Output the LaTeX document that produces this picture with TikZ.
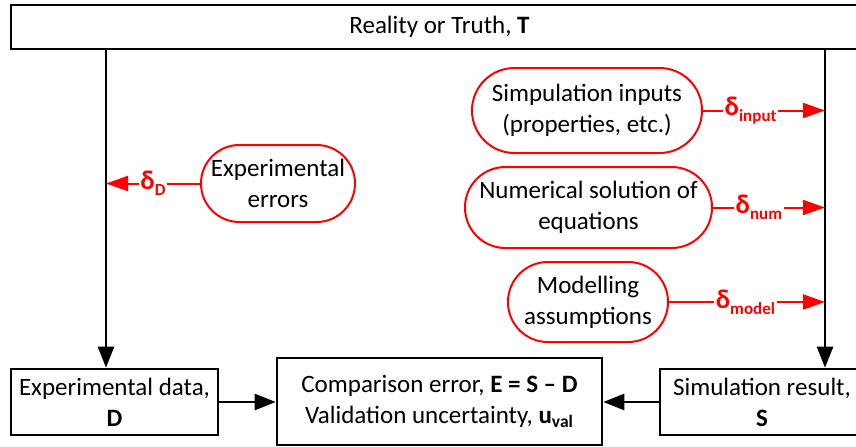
\documentclass[tikz,border=0pt]{standalone}
\usepackage{fontspec}
\setmainfont{Carlito}
\usetikzlibrary{arrows.meta}
% bold error symbol with a lowered subscript
\newcommand\errsym[1]{δ\raisebox{-0.45ex}{\fontsize{8.5pt}{9pt}\selectfont #1}}
\begin{document}
\begin{tikzpicture}[x=0.5pt,y=-0.5pt,
  font=\fontsize{12.5pt}{15.5pt}\selectfont,
  box/.style={draw=black,line width=1.3pt,inner sep=0pt,align=center,fill=white},
  pill/.style={draw=red,line width=1pt,inner sep=0pt,align=center,fill=white},
  flow/.style={draw=black,line width=1.3pt,-{Triangle[length=10.5pt,width=8pt]}},
  errflow/.style={draw=red,line width=1pt,-{Triangle[length=11pt,width=7.5pt]}},
  dlabel/.style={fill=white,text=red,inner sep=0.8pt,font=\fontsize{13.5pt}{15pt}\selectfont\bfseries},
]
\useasboundingbox (0,0) rectangle (856,446);
\clip (0,0) rectangle (856,446);

% main boxes
\node[box,minimum width=428.5pt,minimum height=22pt] (truth) at (439.5,27) {Reality or Truth, \textbf{T}};
\node[box,minimum width=103.5pt,minimum height=33pt] (exp) at (114.5,402) {Experimental data,\\\textbf{D}};
\node[box,minimum width=102pt,minimum height=33pt] (sim) at (762,402) {Simulation result,\\\textbf{S}};
\node[box,minimum width=162.5pt,minimum height=43.5pt] (cmp) at (439.5,401.5)
  {Comparison error, \textbf{E = S – D}\\Validation uncertainty, \textbf{u}\textsubscript{\textbf{val}}};

% error sources
\node[pill,minimum width=115pt,minimum height=42.5pt,rounded corners=21.2pt] (inp) at (587,110.5) {Simpulation inputs\\(properties, etc.)};
\node[pill,minimum width=123.5pt,minimum height=40.5pt,rounded corners=20.2pt] (num) at (588.5,207.5) {Numerical solution of\\equations};
\node[pill,minimum width=80pt,minimum height=40pt,rounded corners=19.9pt] (mod) at (588,302) {Modelling\\assumptions};
\node[pill,minimum width=77pt,minimum height=38.5pt,rounded corners=19.2pt] (experr) at (278,183.5) {Experimental\\errors};

% vertical flows from reality
\coordinate (lt) at (106,49);
\coordinate (rt) at (825,49);
\draw[flow] (lt) -- (lt |- exp.north);
\draw[flow] (rt) -- (rt |- sim.north);

% into the comparison
\draw[flow] (exp.east) -- (exp.east -| cmp.west);
\draw[flow] (sim.west) -- (sim.west -| cmp.east);

% error contributions
\draw[errflow] (experr.west) -- node[dlabel,pos=0.5] {\errsym{D}} (experr.west -| lt);
\draw[errflow] (inp.east) -- node[dlabel,pos=0.39] {\errsym{input}} (inp.east -| rt);
\draw[errflow] (num.east) -- node[dlabel,pos=0.41] {\errsym{num}} (num.east -| rt);
\draw[errflow] (mod.east) -- node[dlabel,pos=0.49] {\errsym{model}} (mod.east -| rt);
\end{tikzpicture}
\end{document}
